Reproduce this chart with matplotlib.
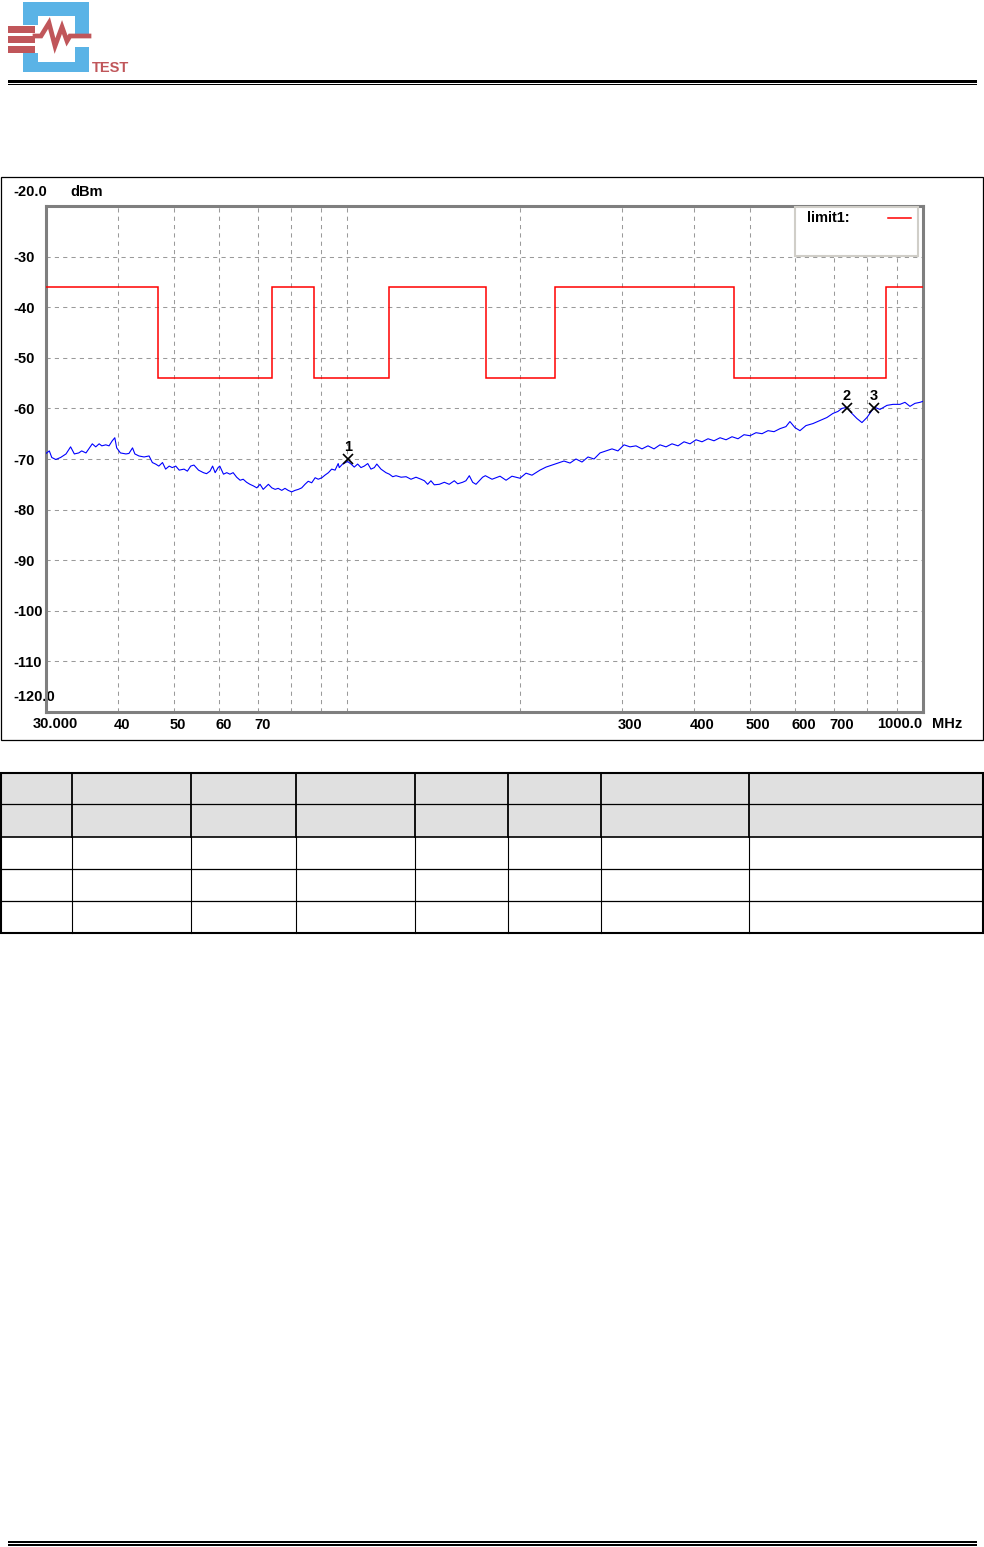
import matplotlib
matplotlib.use("Agg")
import matplotlib.pyplot as plt
from matplotlib.patches import Rectangle
from matplotlib.transforms import ScaledTranslation

plt.rcParams['font.family'] = ['Liberation Sans', 'DejaVu Sans']
plt.rcParams['font.weight'] = 'bold'

W, H, DPI = 984, 1547, 100

# measured trace (MHz, dBm)
freq = [30.0, 30.4, 30.7, 31.2, 31.8, 32.5, 33.1, 33.6, 34.2, 34.6, 35.2, 35.6, 36.1, 36.6, 37.1, 37.5,
        38.1, 38.6, 39.1, 39.5, 39.8, 40.4, 41.3, 41.8, 42.4, 42.8, 43.5, 44.4, 45.3, 45.9, 46.5, 47.1,
        47.8, 48.4, 49.1, 49.7, 50.4, 51.1, 52.1, 52.8, 53.5, 54.2, 55.2, 56.3, 57.0, 57.8, 58.4, 59.0,
        59.7, 60.1, 61.0, 61.8, 62.6, 63.4, 64.3, 65.2, 66.0, 66.9, 67.8, 68.7, 69.7, 70.6, 71.5, 73.0,
        74.0, 75.0, 75.9, 77.0, 78.0, 79.0, 80.1, 81.2, 82.3, 83.4, 84.5, 85.6, 86.8, 88.0, 89.1, 90.4,
        91.5, 92.8, 94.0, 95.3, 96.5, 96.9, 98.2, 100.2, 101.6, 102.9, 104.3, 105.7, 107.1, 108.6, 110.0,
        111.5, 112.6, 114.5, 116.8, 118.4, 120.0, 121.6, 124.1, 126.6, 129.1, 131.7, 134.4, 136.2, 138.0,
        139.8, 141.7, 144.6, 147.5, 150.4, 153.5, 155.6, 158.7, 160.8, 163.0, 165.2, 167.4, 169.6, 171.9,
        173.8, 178.5, 184.3, 188.8, 193.3, 199.6, 204.5, 209.4, 216.2, 221.5, 226.9, 232.4, 238.0, 243.8,
        249.7, 255.8, 262.0, 268.4, 274.9, 281.5, 288.4, 295.3, 302.6, 309.9, 317.4, 325.1, 333.0, 341.1,
        349.4, 357.9, 366.6, 375.5, 384.6, 393.9, 403.5, 413.3, 423.4, 433.6, 444.2, 455.0, 466.0, 477.3,
        488.9, 500.8, 512.9, 525.4, 538.1, 551.2, 564.6, 578.1, 587.4, 599.3, 611.4, 626.2, 644.0, 662.2,
        681.0, 697.5, 711.7, 723.1, 737.7, 752.6, 767.8, 783.4, 799.2, 815.4, 825.2, 842.0, 865.8, 887.0,
        912.0, 930.4, 949.2, 968.5, 988.1, 1000.0]
level = [-68.9, -68.4, -69.7, -70.1, -69.7, -69.0, -67.6, -69.0, -68.8, -68.4, -68.8, -68.0, -67.0, -67.6,
         -67.0, -67.4, -67.2, -67.4, -66.4, -65.8, -67.8, -68.8, -69.0, -68.9, -67.8, -69.0, -69.4, -69.6,
         -69.4, -70.7, -71.0, -71.4, -70.7, -72.0, -71.4, -71.7, -71.4, -72.2, -72.0, -72.4, -71.4, -71.2,
         -72.2, -72.7, -72.9, -72.4, -71.4, -72.7, -71.7, -71.4, -73.0, -72.7, -73.0, -72.7, -73.6, -74.2,
         -74.0, -74.6, -75.0, -75.3, -75.7, -75.0, -76.0, -75.0, -75.7, -76.0, -75.8, -76.2, -75.8, -76.2,
         -76.5, -76.2, -76.0, -75.7, -75.0, -74.4, -74.7, -73.7, -74.0, -73.7, -73.2, -72.7, -72.0, -72.2,
         -70.9, -71.7, -71.0, -70.5, -71.0, -71.6, -71.0, -71.7, -71.4, -70.9, -72.0, -71.7, -71.0, -72.0,
         -72.7, -73.0, -73.5, -73.3, -73.6, -73.5, -74.0, -73.6, -74.0, -74.3, -75.0, -74.3, -75.1, -75.0,
         -74.6, -75.0, -74.3, -74.9, -74.6, -74.3, -73.3, -74.6, -75.0, -74.3, -73.6, -73.3, -74.0, -73.4,
         -74.2, -73.4, -73.8, -72.8, -73.2, -72.2, -71.6, -71.2, -70.8, -70.4, -70.8, -70.0, -70.6, -69.6,
         -70.0, -68.8, -68.4, -68.0, -68.4, -67.2, -67.6, -67.4, -68.0, -67.4, -68.0, -67.2, -67.6, -67.0,
         -67.4, -66.6, -67.0, -66.2, -66.6, -66.0, -66.4, -65.8, -66.2, -65.6, -66.0, -65.2, -65.4, -64.8,
         -65.0, -64.4, -64.6, -64.0, -63.6, -62.6, -63.8, -64.4, -63.4, -63.0, -62.4, -61.8, -61.0, -60.6,
         -60.0, -59.8, -61.0, -62.0, -62.8, -61.8, -60.4, -59.8, -60.2, -59.4, -59.2, -59.2, -58.8, -59.6,
         -59.0, -58.8, -58.6]

# limit1 band edges and levels
lim_edges = [30, 47, 74, 87.5, 118, 174, 230, 470, 862, 1000]
lim_level = [-36, -54, -36, -54, -36, -54, -36, -54, -36]

# markers
mk_freq = [100.4, 737.0, 821.0]
mk_level = [-70.0, -59.9, -59.9]
mk_label = ["1", "2", "3"]

grid_freq = [40, 50, 60, 70, 80, 90, 100, 200, 300, 400, 500, 600, 700, 800, 900]
x_labels = {40: "40", 50: "50", 60: "60", 70: "70", 300: "300", 400: "400",
            500: "500", 600: "600", 700: "700"}
y_ticks = [-30, -40, -50, -60, -70, -80, -90, -100, -110]

fig = plt.figure(figsize=(W / DPI, H / DPI), dpi=DPI)

# page decoration in pixel coords
bg = fig.add_axes([0, 0, 1, 1])
bg.set_xlim(0, W)
bg.set_ylim(H, 0)
bg.axis("off")

blue = "#5AB3E6"
red = "#C0565A"
for (x, y, w, h) in [(23, 2, 66, 14), (75, 2, 14, 34), (23, 2, 15, 23), (23, 53, 15, 19),
                     (23, 62, 66, 10), (75, 47, 14, 25)]:
    bg.add_patch(Rectangle((x, y), w, h, color=blue, lw=0))
for y in (26, 36, 46):
    bg.add_patch(Rectangle((8, y), 27, 7, color=red, lw=0))
bg.plot([35, 41, 49, 55, 62, 67, 70, 89], [36, 36, 23, 46, 27, 41, 36, 36],
        color=red, lw=3.4, solid_joinstyle="miter")
bg.text(92, 68, "TEST", color=red, fontsize=10.5, va="center", ha="left")

# header / footer rules
bg.add_patch(Rectangle((8, 80), 969, 3, color="black", lw=0))
bg.add_patch(Rectangle((8, 84), 969, 1.3, color="black", lw=0))
bg.add_patch(Rectangle((8, 1541.3), 969, 1.2, color="black", lw=0))
bg.add_patch(Rectangle((8, 1543.5), 969, 2.8, color="black", lw=0))

# chart frame
bg.add_patch(Rectangle((1, 177), 982, 563, fill=False, ec="black", lw=0.9))

# empty results table
col_x = [1, 72, 191, 296, 415, 508, 601, 749, 983]
row_y = [773, 804, 837, 869, 901, 933]
for i in range(2):
    bg.add_patch(Rectangle((col_x[0], row_y[i]), col_x[-1] - col_x[0], row_y[i + 1] - row_y[i],
                           color="#E0E0E0", lw=0))
for i, y in enumerate(row_y[1:-1]):
    bg.plot([col_x[0], col_x[-1]], [y, y], color="black", lw=0.9 if i != 1 else 1.2)
for x in col_x[1:-1]:
    bg.plot([x, x], [row_y[0], row_y[2]], color="black", lw=1.3)
    bg.plot([x, x], [row_y[2], row_y[-1]], color="black", lw=0.8)
bg.add_patch(Rectangle((col_x[0], row_y[0]), col_x[-1] - col_x[0], row_y[-1] - row_y[0],
                       fill=False, ec="black", lw=1.5))

# axis labels outside plot
fs = 10.5
bg.text(13, 192, "-20.0", fontsize=fs, va="center", ha="left")
bg.text(70, 192, "dBm", fontsize=fs, va="center", ha="left")
bg.text(13, 697, "-120.0", fontsize=fs, va="center", ha="left")
bg.text(33, 724, "30.000", fontsize=fs, va="center", ha="left")
bg.text(922, 724, "1000.0", fontsize=fs, va="center", ha="right")
bg.text(932, 724, "MHz", fontsize=fs, va="center", ha="left")

# main plot
ax = fig.add_axes([46 / W, (H - 712) / H, 877 / W, 506 / H])
ax.patch.set_alpha(0)
ax.set_xscale("log")
ax.set_xlim(30, 1000)
ax.set_ylim(-120, -20)
for s in ax.spines.values():
    s.set_color("#7f7f7f")
    s.set_linewidth(2.2)

ax.set_xticks(grid_freq)
ax.set_xticklabels([x_labels.get(f, "") for f in grid_freq])
ax.xaxis.set_minor_locator(matplotlib.ticker.NullLocator())
ax.set_yticks(y_ticks)
ax.set_yticklabels([str(v) for v in y_ticks])
ax.tick_params(axis="both", length=0, labelsize=fs)
ax.tick_params(axis="x", pad=4.5)
ax.tick_params(axis="y", pad=23.8)
for lab in ax.get_yticklabels():
    lab.set_ha("left")
shift = ScaledTranslation(-4 / DPI, 0, fig.dpi_scale_trans)
for lab in ax.get_xticklabels():
    lab.set_ha("left")
    lab.set_transform(lab.get_transform() + shift)
ax.grid(True, color="#9a9a9a", lw=0.75, linestyle=(0, (4, 4)))

ax.stairs(lim_level, lim_edges, baseline=None, color="#FF0000", lw=1.1, zorder=3)
ax.plot(freq, level, color="#0000FF", lw=0.8, zorder=4)
ax.plot(mk_freq, mk_level, "x", color="black", ms=7, mew=1.2, zorder=5)
for f, v, t in zip(mk_freq, mk_level, mk_label):
    ax.annotate(t, (f, v), xytext=(0, 12), textcoords="offset pixels",
                ha="center", va="center", fontsize=fs, zorder=5)

# legend box
ax.add_patch(Rectangle((0.854, 0.901), 0.14, 0.097, transform=ax.transAxes,
                       fc="white", ec="#D0CEC8", lw=1.5, zorder=6))
ax.text(0.868, 0.976, "limit1:", transform=ax.transAxes, fontsize=fs,
        va="center", ha="left", zorder=7)
ax.plot([0.960, 0.986], [0.976, 0.976], transform=ax.transAxes, color="#FF0000",
        lw=1.1, zorder=7)

fig.savefig("out.png", dpi=DPI, facecolor="white")
